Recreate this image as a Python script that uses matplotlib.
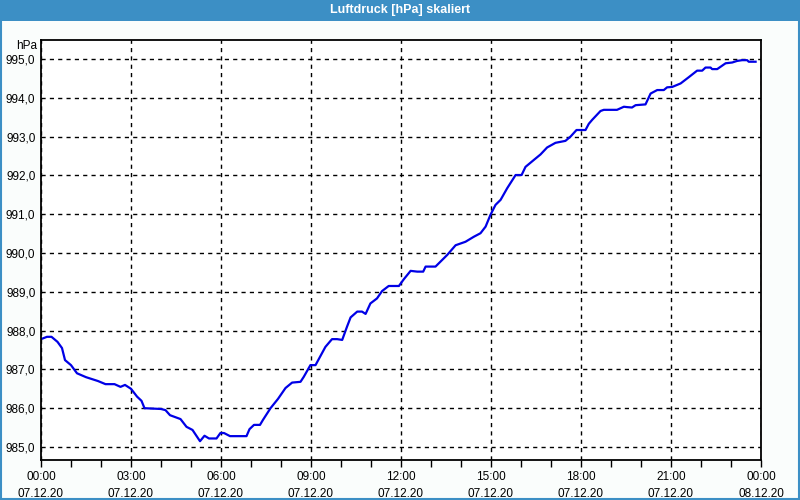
import matplotlib
matplotlib.use('Agg')
import matplotlib.pyplot as plt
import matplotlib.dates as mdates
from matplotlib.patches import Rectangle
from datetime import datetime, timedelta

# hours since 07.12.20 00:00 and pressure (hPa)
hours = [0.0, 0.2, 0.35, 0.55, 0.7, 0.8, 1.0, 1.2, 1.5, 1.9, 2.15, 2.45, 2.65, 2.8, 3.0,
         3.2, 3.35, 3.45, 4.0, 4.15, 4.3, 4.65, 4.85, 5.05, 5.3, 5.45, 5.6, 5.85, 5.98,
         6.1, 6.3, 6.85, 6.95, 7.1, 7.3, 7.4, 7.65, 7.9, 8.15, 8.37, 8.65, 8.76, 8.98,
         9.15, 9.48, 9.7, 9.87, 10.04, 10.2, 10.32, 10.54, 10.7, 10.82, 10.98, 11.2,
         11.37, 11.59, 11.93, 12.09, 12.32, 12.54, 12.74, 12.82, 13.15, 13.54, 13.82,
         14.15, 14.43, 14.65, 14.82, 14.98, 15.15, 15.32, 15.54, 15.82, 16.02, 16.15,
         16.43, 16.65, 16.87, 17.15, 17.48, 17.65, 17.85, 18.15, 18.26, 18.37, 18.65,
         18.76, 19.2, 19.43, 19.54, 19.7, 19.82, 20.15, 20.32, 20.54, 20.76, 20.87,
         21.04, 21.32, 21.59, 21.87, 22.04, 22.15, 22.32, 22.37, 22.54, 22.82, 23.04,
         23.2, 23.37, 23.54, 23.59, 23.82]
pressure = [987.78, 987.84, 987.84, 987.71, 987.55, 987.24, 987.11, 986.9, 986.8, 986.7,
            986.62, 986.62, 986.55, 986.6, 986.5, 986.3, 986.19, 986.0, 985.98, 985.95,
            985.82, 985.72, 985.52, 985.44, 985.15, 985.29, 985.22, 985.22, 985.36,
            985.36, 985.28, 985.28, 985.46, 985.57, 985.57, 985.7, 986.0, 986.24,
            986.52, 986.66, 986.68, 986.81, 987.11, 987.11, 987.58, 987.78, 987.78,
            987.76, 988.1, 988.34, 988.49, 988.49, 988.43, 988.7, 988.83, 989.02,
            989.15, 989.15, 989.32, 989.54, 989.52, 989.52, 989.65, 989.65, 989.95,
            990.2, 990.29, 990.42, 990.51, 990.68, 990.98, 991.24, 991.37, 991.67,
            992.01, 992.01, 992.22, 992.4, 992.54, 992.72, 992.84, 992.89, 993.0,
            993.17, 993.17, 993.33, 993.43, 993.66, 993.69, 993.69, 993.77, 993.76,
            993.75, 993.81, 993.83, 994.11, 994.2, 994.2, 994.27, 994.28, 994.37,
            994.53, 994.7, 994.7, 994.78, 994.78, 994.74, 994.74, 994.89, 994.91,
            994.95, 994.97, 994.97, 994.93, 994.93]
yticks = [985, 986, 987, 988, 989, 990, 991, 992, 993, 994, 995]

start = datetime(2020, 12, 7)
times = [start + timedelta(hours=h) for h in hours]

plt.rcParams['font.family'] = ['Liberation Sans', 'DejaVu Sans']

fig = plt.figure(figsize=(8, 5), dpi=100)
fig.patch.set_facecolor('#fafdfc')

# title bar and border
fig.patches.append(Rectangle((0, 1 - 21 / 500), 1, 21 / 500, transform=fig.transFigure,
                             facecolor='#3c8fc5', edgecolor='none', zorder=0))
fig.patches.append(Rectangle((0.001, 0.002), 0.998, 0.996, transform=fig.transFigure,
                             facecolor='none', edgecolor='#3c8fc5', lw=1.5, zorder=1))
fig.text(0.5, 1 - 10.5 / 500, 'Luftdruck [hPa] skaliert', color='white', fontsize=9,
         fontweight='bold', ha='center', va='center')

ax = fig.add_axes([41 / 800, 40 / 500, 720 / 800, 420 / 500])
ax.set_facecolor('white')
ax.plot(times, pressure, color='#0000e6', lw=1.6)

ax.set_xlim(start, start + timedelta(hours=24))
ax.set_ylim(984.665, 995.49)

ax.xaxis.set_major_locator(mdates.HourLocator(byhour=range(0, 24, 3)))
ax.xaxis.set_minor_locator(mdates.HourLocator())
ax.xaxis.set_major_formatter(mdates.DateFormatter('%H:%M\n%d.%m.%y'))
ax.set_yticks(yticks)
ax.set_yticklabels([('%.1f' % v).replace('.', ',') for v in yticks])

ax.grid(True, which='major', color='black', linestyle=(0, (3, 3)), lw=1)
ax.tick_params(axis='x', which='both', direction='out', length=5, width=1, pad=3,
               labelsize=8.5, colors='black')
ax.tick_params(axis='y', length=0, pad=4, labelsize=8.5)
for label in ax.get_xticklabels():
    label.set_linespacing(1.55)
for spine in ax.spines.values():
    spine.set_linewidth(1.3)

fig.text(37 / 800, 1 - 46 / 500, 'hPa', fontsize=8.5, ha='right', va='center')

fig.savefig('out.png', dpi=100, facecolor=fig.get_facecolor())
